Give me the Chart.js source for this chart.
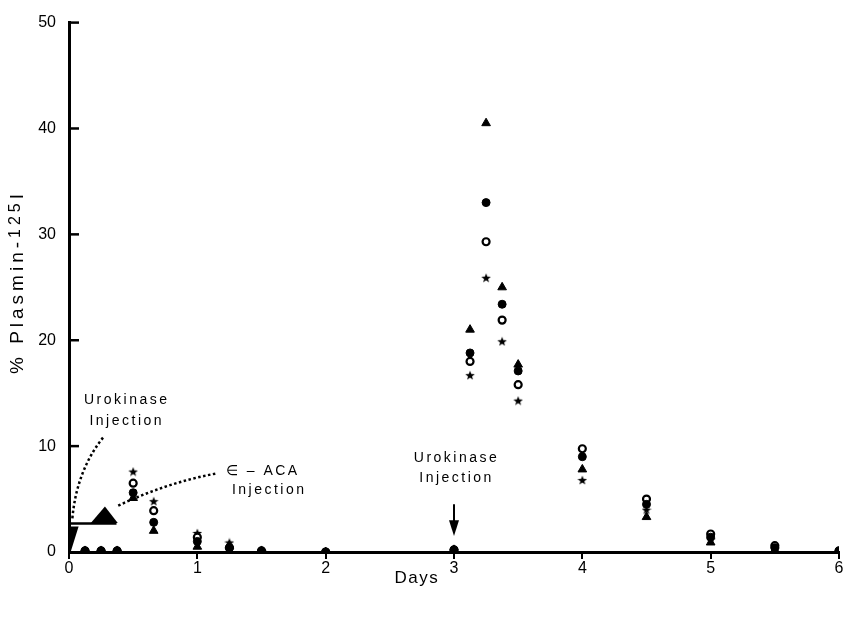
<!DOCTYPE html>
<html>
<head>
<meta charset="utf-8">
<script src="https://cdn.jsdelivr.net/npm/chart.js@4.4.1/dist/chart.umd.min.js"></script>
<style>
  html, body { margin: 0; padding: 0; background: #fff; }
  #wrap { width: 848px; height: 618px; position: relative; }
</style>
</head>
<body>
<div id="wrap"><canvas id="plasminChart"></canvas></div>
<script>
// sampling times (days)
const days = [0.125, 0.25, 0.375, 0.5, 0.66, 1, 1.25, 1.5, 2, 3, 3.125, 3.25, 3.375, 3.5, 4, 4.5, 5, 5.5, 6];

// % plasmin-125I, one array per symbol
const triangleVals = [0.1, 0.1, 0.1, 5.1, 2.0, 0.5, 0.6, 0.1, 0.0, 0.2, 21.0, 40.5, 25.0, 17.7, 7.8, 3.3, 0.9, 0.2, 0.0];
const filledVals   = [0.1, 0.1, 0.1, 5.6, 2.8, 1.0, 0.4, 0.1, 0.0, 0.2, 18.8, 33.0, 23.4, 17.1, 9.0, 4.5, 1.4, 0.4, 0.1];
const openVals     = [0.1, 0.1, 0.1, 6.5, 3.9, 1.4, 0.4, 0.1, 0.0, 0.2, 18.0, 29.3, 21.9, 15.8, 9.75, 5.0, 1.7, 0.6, 0.1];
const starVals     = [0.1, 0.1, 0.1, 7.6, 4.8, 1.8, 0.9, 0.1, 0.0, 0.2, 16.7, 25.9, 19.9, 14.3, 6.8, 4.0, 1.2, 0.3, 0.0];

const xTicks = [0, 1, 2, 3, 4, 5, 6];
const yTicks = [0, 10, 20, 30, 40, 50];

const FONT = '"Liberation Sans", Arial, sans-serif';

// filled five-point star used as a point style
function starImage(size) {
    const c = document.createElement('canvas');
    c.width = size; c.height = size;
    const g = c.getContext('2d');
    const cx = size / 2, cy = size / 2 + 0.5;
    const ro = size / 2, ri = size * 0.21;
    g.beginPath();
    for (let i = 0; i < 10; i++) {
        const r = i % 2 === 0 ? ro : ri;
        const a = -Math.PI / 2 + i * Math.PI / 5;
        g.lineTo(cx + r * Math.cos(a), cy + r * Math.sin(a));
    }
    g.closePath();
    g.fillStyle = '#000';
    g.fill();
    return c;
}

function pts(vals) {
    return days.map((d, i) => ({ x: d, y: vals[i] }));
}

function spacedText(ctx, text, x, y, spacing) {
    ctx.letterSpacing = spacing + 'px';
    ctx.fillText(text, x, y);
    ctx.letterSpacing = '0px';
}

const annotations = {
    id: 'annotations',
    afterDraw(chart) {
        const ctx = chart.ctx;
        const xs = chart.scales.x, ys = chart.scales.y;
        const X = v => xs.getPixelForValue(v);
        const Y = v => ys.getPixelForValue(v);

        ctx.save();
        ctx.fillStyle = '#000';
        ctx.strokeStyle = '#000';

        // inward y ticks
        ctx.lineWidth = 2.5;
        yTicks.forEach(t => {
            if (t === 0) return;
            ctx.beginPath();
            ctx.moveTo(xs.left, Y(t));
            ctx.lineTo(xs.left + 10, Y(t));
            ctx.stroke();
        });

        // text labels
        ctx.font = '14px ' + FONT;
        ctx.textAlign = 'center';
        ctx.textBaseline = 'middle';
        spacedText(ctx, 'Urokinase', X(0.45), Y(14.3), 2.5);
        spacedText(ctx, 'Injection', X(0.45), Y(12.35), 2.5);
        spacedText(ctx, '∈ – ACA', X(1.51), Y(7.6), 2.5);
        spacedText(ctx, 'Injection', X(1.56), Y(5.8), 2.5);
        spacedText(ctx, 'Urokinase', X(3.02), Y(8.85), 2.5);
        spacedText(ctx, 'Injection', X(3.02), Y(7.0), 2.5);

        // dotted curves
        ctx.setLineDash([2.5, 2.5]);
        ctx.lineWidth = 2.5;
        ctx.beginPath();
        ctx.moveTo(X(0.265), Y(10.8));
        ctx.quadraticCurveTo(X(0.055), Y(7.6), X(0.025), Y(3.0));
        ctx.stroke();
        ctx.beginPath();
        ctx.moveTo(X(1.14), Y(7.4));
        ctx.quadraticCurveTo(X(0.75), Y(6.5), X(0.37), Y(4.3));
        ctx.stroke();
        ctx.setLineDash([]);

        // e-ACA arrowhead and infusion bar
        ctx.beginPath();
        ctx.moveTo(X(0.28), Y(4.3));
        ctx.lineTo(X(0.17), Y(2.75));
        ctx.lineTo(X(0.38), Y(2.75));
        ctx.closePath();
        ctx.fill();
        ctx.lineWidth = 2.5;
        ctx.beginPath();
        ctx.moveTo(X(0), Y(2.7));
        ctx.lineTo(X(0.37), Y(2.7));
        ctx.stroke();

        // urokinase arrowhead at day 0
        ctx.beginPath();
        ctx.moveTo(X(0.005), Y(2.4));
        ctx.lineTo(X(0.075), Y(2.4));
        ctx.lineTo(X(0.015), Y(0.1));
        ctx.closePath();
        ctx.fill();

        // urokinase arrow at day 3
        ctx.lineWidth = 2;
        ctx.beginPath();
        ctx.moveTo(X(3), Y(4.5));
        ctx.lineTo(X(3), Y(2.5));
        ctx.stroke();
        ctx.beginPath();
        ctx.moveTo(X(3) - 5, Y(3.0));
        ctx.lineTo(X(3) + 5, Y(3.0));
        ctx.lineTo(X(3), Y(1.5));
        ctx.closePath();
        ctx.fill();

        // axis titles
        ctx.font = '17px ' + FONT;
        ctx.textAlign = 'center';
        ctx.textBaseline = 'middle';
        spacedText(ctx, 'Days', X(2.71), 578, 1.5);

        ctx.translate(18, Y(25.5));
        ctx.rotate(-Math.PI / 2);
        ctx.textAlign = 'left';
        ctx.letterSpacing = '4px';
        const a = '% Plasmin-';
        ctx.font = '19px ' + FONT;
        const wa = ctx.measureText(a).width;
        ctx.font = '16px ' + FONT;
        const wb = ctx.measureText('125').width;
        ctx.font = '19px ' + FONT;
        const wc = ctx.measureText('I').width;
        const x0 = -(wa + wb + wc) / 2;
        ctx.fillText(a, x0, 0);
        ctx.font = '16px ' + FONT;
        ctx.fillText('125', x0 + wa, -2);
        ctx.font = '19px ' + FONT;
        ctx.fillText('I', x0 + wa + wb, 0);
        ctx.restore();
    }
};

const ctx = document.getElementById('plasminChart').getContext('2d');
const chart = new Chart(ctx, {
    type: 'scatter',
    data: {
        datasets: [
            {
                label: 'triangle',
                data: pts(triangleVals),
                pointStyle: 'triangle',
                pointRadius: 5,
                backgroundColor: '#000',
                borderColor: '#000',
                borderWidth: 1
            },
            {
                label: 'filled circle',
                data: pts(filledVals),
                pointStyle: 'circle',
                pointRadius: 4,
                backgroundColor: '#000',
                borderColor: '#000',
                borderWidth: 1
            },
            {
                label: 'open circle',
                data: pts(openVals),
                pointStyle: 'circle',
                pointRadius: 3.5,
                backgroundColor: '#fff',
                borderColor: '#000',
                borderWidth: 2.2
            },
            {
                label: 'star',
                data: pts(starVals),
                pointStyle: starImage(10),
                pointRadius: 5,
                backgroundColor: '#000',
                borderColor: '#000'
            }
        ]
    },
    options: {
        responsive: true,
        maintainAspectRatio: false,
        animation: false,
        layout: { padding: { top: 15, right: 9, left: 0, bottom: 0 } },
        plugins: {
            legend: { display: false },
            tooltip: { enabled: false }
        },
        scales: {
            x: {
                type: 'linear',
                min: 0,
                max: 6,
                afterFit: s => { s.height = 66; },
                afterBuildTicks: s => { s.ticks = xTicks.map(v => ({ value: v })); },
                border: { display: true, color: '#000', width: 3 },
                grid: { drawOnChartArea: false, drawTicks: true, tickLength: 7, color: '#000', lineWidth: 2 },
                ticks: { color: '#000', padding: 0, font: { family: FONT, size: 16 } }
            },
            y: {
                type: 'linear',
                min: 0,
                max: 50,
                afterFit: s => { s.width = 69; },
                afterBuildTicks: s => { s.ticks = yTicks.map(v => ({ value: v })); },
                border: { display: true, color: '#000', width: 3 },
                grid: { drawOnChartArea: false, drawTicks: false },
                ticks: { color: '#000', padding: 13, font: { family: FONT, size: 16 } }
            }
        }
    },
    plugins: [annotations]
});
</script>
</body>
</html>
